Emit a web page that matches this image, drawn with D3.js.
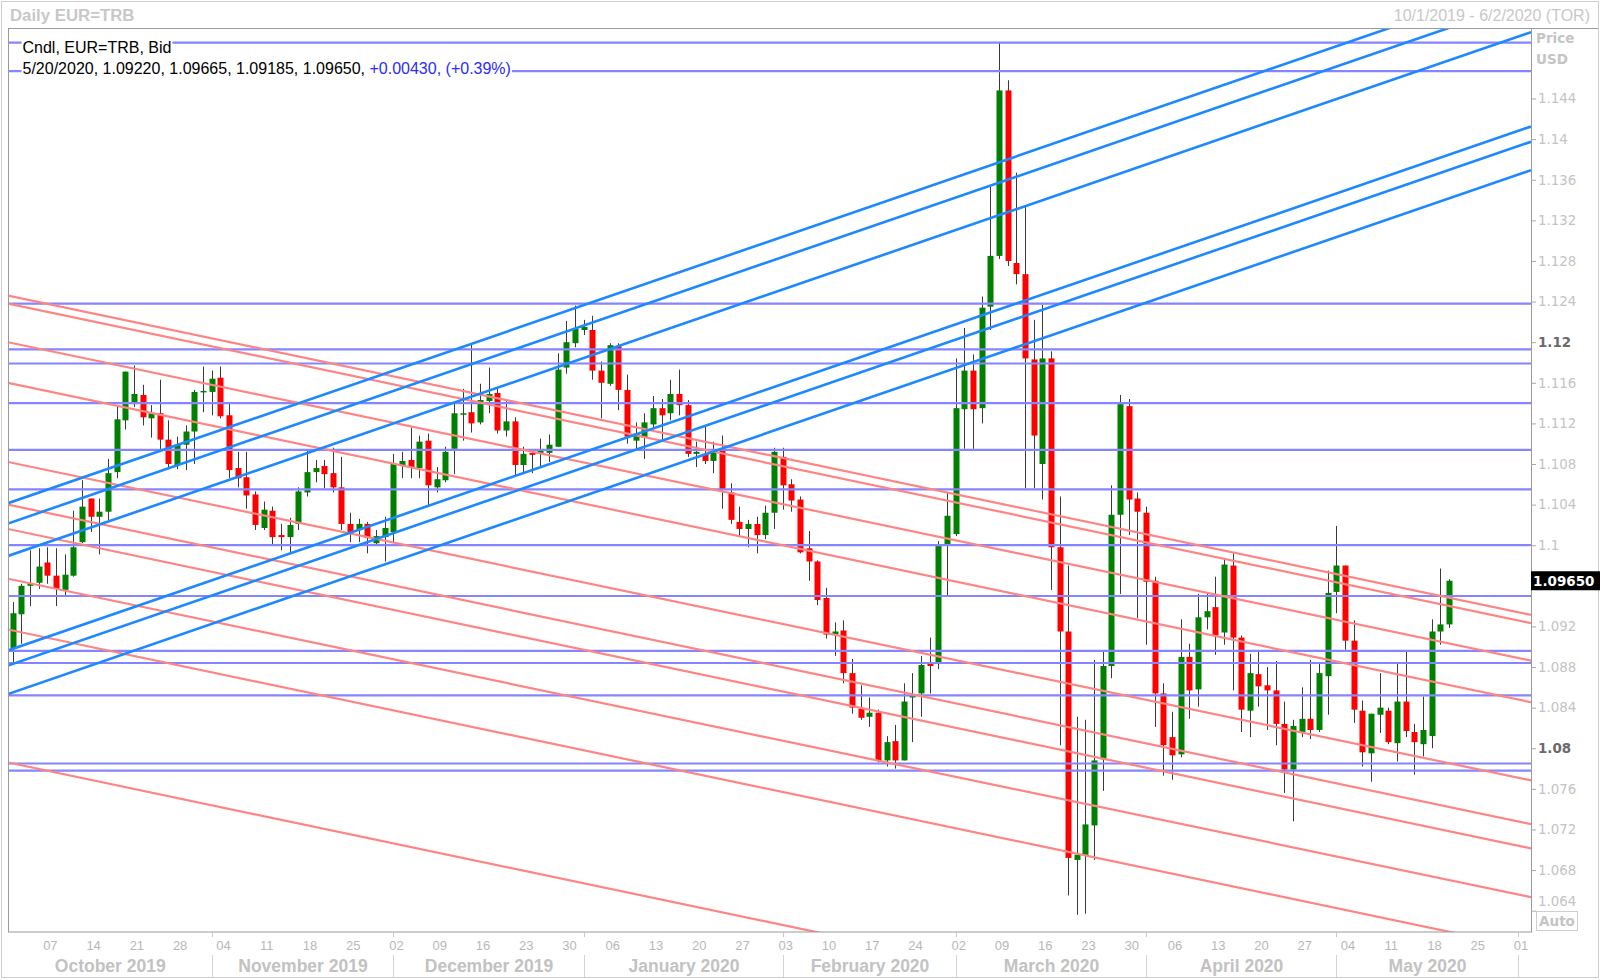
<!DOCTYPE html>
<html><head><meta charset="utf-8">
<script src="https://cdn.jsdelivr.net/npm/d3@7/dist/d3.min.js"></script>
<style>body{margin:0;background:#fff}svg{display:block}</style>
</head><body><svg id="c" width="1600" height="980"></svg>
<script>
// ---------- DATA (Daily EUR=TRB, 1 Oct 2019 – 20 May 2020, weekdays) ----------
const firstDay = "2019-10-01", axisEnd = "2020-06-02";
const open = [
1.0898,1.0932,1.0960,1.0963,1.0983,1.0970,1.0956,1.0970,1.1003,1.1046,
1.1028,1.1033,1.1072,1.1123,1.1141,1.1148,1.1125,1.1130,1.1104,1.1079,
1.1099,1.1112,1.1151,1.1151,1.1165,1.1128,1.1076,1.1067,1.1050,1.1017,
1.1034,1.1010,1.1008,1.1021,1.1052,1.1072,1.1078,1.1071,1.1057,1.1021,
1.1015,1.1021,1.1002,1.1008,1.1013,1.1078,1.1084,1.1076,1.1103,1.1057,
1.1064,1.1095,1.1129,1.1131,1.1121,1.1142,1.1150,1.1113,1.1122,1.1079,
1.1091,1.1090,1.1091,1.1097,1.1175,1.1199,1.1212,1.1212,1.1172,1.1159,
1.1196,1.1153,1.1103,1.1106,1.1119,1.1135,1.1130,1.1149,1.1138,1.1090,
1.1090,1.1083,1.1095,1.1052,1.1023,1.1016,1.1021,1.1010,1.1032,1.1087,
1.1060,1.1045,1.0997,1.0984,1.0948,1.0912,1.0916,1.0874,1.0839,1.0831,
1.0835,1.0788,1.0807,1.0788,1.0850,1.0854,1.0883,1.0883,1.1001,1.1011,
1.1134,1.1172,1.1135,1.1235,1.1285,1.1448,1.1278,1.1267,1.1183,1.1080,
1.1184,1.0998,1.0915,1.0690,1.0695,1.0724,1.0789,1.0881,1.1030,1.1137,
1.1046,1.1032,1.0965,1.0854,1.0811,1.0794,1.0890,1.0858,1.0929,1.0939,
1.0914,1.0980,1.0909,1.0837,1.0873,1.0862,1.0857,1.0824,1.0779,1.0816,
1.0829,1.0818,1.0871,1.0954,1.0980,1.0906,1.0837,1.0795,1.0833,1.0837,
1.0805,1.0846,1.0816,1.0804,1.0812,1.0915,1.0922];
const high = [
1.0944,1.0962,1.0995,1.0997,1.0998,1.0997,1.0991,1.1034,1.1064,1.1046,
1.1046,1.1085,1.1138,1.1171,1.1177,1.1158,1.1138,1.1163,1.1123,1.1107,
1.1118,1.1153,1.1176,1.1172,1.1176,1.1139,1.1092,1.1092,1.1053,1.1043,
1.1038,1.1021,1.1027,1.1057,1.1093,1.1084,1.1084,1.1096,1.1087,1.1032,
1.1026,1.1023,1.1015,1.1028,1.1090,1.1092,1.1116,1.1108,1.1110,1.1077,
1.1097,1.1141,1.1154,1.1199,1.1159,1.1175,1.1154,1.1144,1.1126,1.1097,
1.1092,1.1105,1.1109,1.1189,1.1221,1.1236,1.1222,1.1226,1.1181,1.1199,
1.1199,1.1168,1.1121,1.1130,1.1147,1.1144,1.1163,1.1173,1.1143,1.1102,
1.1118,1.1102,1.1108,1.1061,1.1038,1.1025,1.1028,1.1039,1.1096,1.1096,
1.1065,1.1048,1.1014,1.0985,1.0958,1.0924,1.0926,1.0888,1.0862,1.0850,
1.0838,1.0812,1.0823,1.0864,1.0874,1.0891,1.0909,1.1004,1.1052,1.1184,
1.1214,1.1188,1.1245,1.1353,1.1495,1.1458,1.1367,1.1334,1.1222,1.1237,
1.1191,1.1048,1.0980,1.0831,1.0828,1.0887,1.0895,1.1059,1.1148,1.1144,
1.1052,1.1038,1.0969,1.0864,1.0836,1.0927,1.0903,1.0952,1.0953,1.0969,
1.0987,1.0992,1.0911,1.0893,1.0895,1.0880,1.0886,1.0846,1.0828,1.0860,
1.0887,1.0885,1.0975,1.1019,1.0980,1.0926,1.0847,1.0834,1.0874,1.0840,
1.0885,1.0895,1.0824,1.0851,1.0927,1.0977,1.09665];
const low = [
1.0883,1.0903,1.0940,1.0957,1.0962,1.0940,1.0950,1.0969,1.1002,1.1013,
1.0991,1.1025,1.1066,1.1114,1.1136,1.1118,1.1106,1.1094,1.1077,1.1075,
1.1074,1.1080,1.1131,1.1128,1.1125,1.1066,1.1057,1.1036,1.1015,1.1015,
1.1001,1.0995,1.0992,1.1015,1.1048,1.1062,1.1056,1.1052,1.1015,1.1003,
1.1003,1.0992,1.1001,1.0984,1.1003,1.1066,1.1066,1.1066,1.1039,1.1052,
1.1062,1.1070,1.1103,1.1111,1.1119,1.1130,1.1110,1.1107,1.1069,1.1071,
1.1071,1.1076,1.1082,1.1097,1.1169,1.1195,1.1207,1.1163,1.1125,1.1157,
1.1133,1.1100,1.1095,1.1085,1.1116,1.1103,1.1123,1.1128,1.1087,1.1077,
1.1080,1.1071,1.1036,1.1021,1.1008,1.0998,1.0992,1.1006,1.1016,1.1035,
1.1033,1.0992,1.0965,1.0941,1.0908,1.0891,1.0864,1.0834,1.0828,1.0821,
1.0786,1.0782,1.0780,1.0788,1.0806,1.0831,1.0854,1.0878,1.0950,1.1009,
1.1095,1.1095,1.1120,1.1212,1.1282,1.1275,1.1257,1.1056,1.1056,1.1045,
1.0956,1.0803,1.0655,1.0636,1.0637,1.0690,1.0758,1.0869,1.0952,1.1010,
1.0928,1.0902,1.0821,1.0773,1.0769,1.0791,1.0829,1.0841,1.0917,1.0892,
1.0902,1.0857,1.0816,1.0811,1.0841,1.0818,1.0803,1.0756,1.0728,1.0811,
1.0809,1.0816,1.0833,1.0933,1.0897,1.0825,1.0782,1.0767,1.0815,1.0804,
1.0787,1.0811,1.0774,1.0792,1.0800,1.0902,1.09185];
const close = [
1.0933,1.0960,1.0962,1.0979,1.0970,1.0957,1.0971,1.0998,1.1038,1.1028,
1.1033,1.1071,1.1124,1.1171,1.1149,1.1126,1.1130,1.1104,1.1080,1.1099,
1.1112,1.1151,1.1152,1.1164,1.1127,1.1074,1.1066,1.1049,1.1020,1.1035,
1.1008,1.1008,1.1020,1.1053,1.1072,1.1076,1.1070,1.1057,1.1021,1.1013,
1.1021,1.1007,1.1009,1.1017,1.1080,1.1083,1.1077,1.1102,1.1059,1.1065,
1.1092,1.1130,1.1130,1.1120,1.1143,1.1149,1.1113,1.1122,1.1079,1.1090,
1.1089,1.1093,1.1099,1.1173,1.1200,1.1213,1.1215,1.1172,1.1160,1.1197,
1.1153,1.1107,1.1110,1.1121,1.1135,1.1128,1.1149,1.1138,1.1090,1.1092,
1.1083,1.1092,1.1055,1.1025,1.1016,1.1021,1.1010,1.1032,1.1092,1.1059,
1.1044,1.0993,1.0984,1.0946,1.0912,1.0915,1.0874,1.0840,1.0830,1.0835,
1.0788,1.0806,1.0788,1.0846,1.0852,1.0882,1.0881,1.1001,1.1029,1.1135,
1.1172,1.1134,1.1234,1.1285,1.1448,1.1280,1.1267,1.1184,1.1108,1.1184,
1.0998,1.0915,1.0692,1.0695,1.0725,1.0788,1.0881,1.1030,1.1139,1.1045,
1.1033,1.0964,1.0854,1.0803,1.0793,1.0890,1.0857,1.0929,1.0935,1.0911,
1.0981,1.0909,1.0838,1.0874,1.0861,1.0857,1.0824,1.0779,1.0822,1.0829,
1.0818,1.0874,1.0953,1.0980,1.0906,1.0838,1.0796,1.0834,1.0840,1.0806,
1.0846,1.0817,1.0806,1.0818,1.0915,1.0922,1.0965];

// horizontal support / resistance levels
const hLevels = [1.1495,1.1467,1.1238,1.1193,1.1179,1.1140,1.1094,1.1055,1.1000,1.0950,1.0896,1.0884,1.0852,1.0785,1.0778];
// trend lines: value on anchorA and anchorB dates
const anchorA = "2019-10-01", anchorB = "2020-05-12";
const redLines = [[1.1245,1.0959],[1.1237,1.0951],[1.1199,1.0914],[1.1159,1.0873],[1.1081,1.0796],
                  [1.1039,1.0753],[1.1015,1.0729],[1.0966,1.0681],[1.0916,1.0630],[1.0785,1.0499]];
const blueLines = [[1.1043,1.1512],[1.1023,1.1492],[1.0991,1.1460],[1.0898,1.1367],[1.0883,1.1352],[1.0855,1.1324]];

// 1.096 is covered by the last-price box in the reference, so it is not labelled
const yTicks = [1.064,1.068,1.072,1.076,1.08,1.084,1.088,1.092,1.1,1.104,1.108,1.112,1.116,1.12,1.124,1.128,1.132,1.136,1.14,1.144];
const yBold = [1.12,1.08];
const monthLabels = ["October 2019","November 2019","December 2019","January 2020","February 2020","March 2020","April 2020","May 2020"];
const legendLine1 = "Cndl, EUR=TRB, Bid";
const legendLine2a = "5/20/2020, 1.09220, 1.09665, 1.09185, 1.09650, ";
const legendLine2b = "+0.00430, (+0.39%)";
const lastPrice = "1.09650";

// ---------- SETUP ----------
const parse = d3.timeParse("%Y-%m-%d");
const days = d3.timeDay.range(parse(firstDay), d3.timeDay.offset(parse(axisEnd), 1))
  .filter(d => d.getDay() !== 0 && d.getDay() !== 6);
const idxOf = s => { const t = +parse(s); return days.findIndex(d => +d === t); };

const L = 8, R = 1531, T = 29, B = 932;
const x = d3.scaleLinear().domain([-0.55, days.length - 0.5]).range([L, R]);
const y = d3.scaleLinear().domain([1.0619, 1.15085]).range([B, T]);

const svg = d3.select("#c");
svg.append("rect").attr("width",1600).attr("height",980).attr("fill","#fff");
svg.append("rect").attr("x",1.5).attr("y",1.5).attr("width",1597).attr("height",976)
  .attr("fill","none").attr("stroke","#cfcfcf");

// header
svg.append("text").attr("x",10).attr("y",21).attr("font-family","Liberation Sans, Arial, sans-serif")
  .attr("font-weight","bold").attr("font-size",16.8).attr("fill","#c8c8c8").text("Daily EUR=TRB");
svg.append("text").attr("x",1590).attr("y",21).attr("text-anchor","end").attr("font-family","Liberation Sans, Arial, sans-serif")
  .attr("font-size",16).attr("fill","#c8c8c8").text("10/1/2019 - 6/2/2020 (TOR)");

svg.append("defs").append("clipPath").attr("id","clip").append("rect")
  .attr("x",L).attr("y",T).attr("width",R-L).attr("height",B-T);
const plot = svg.append("g").attr("clip-path","url(#clip)");

// candles
const candles = open.map((o,i) => ({i, o, h: high[i], l: low[i], c: close[i]}));
const cg = plot.append("g");
cg.selectAll("line.w").data(candles).join("line").attr("class","w")
  .attr("x1", d => Math.round(x(d.i)) + 0.5).attr("x2", d => Math.round(x(d.i)) + 0.5)
  .attr("y1", d => y(d.h)).attr("y2", d => y(d.l))
  .attr("stroke","#3a3a3a").attr("stroke-width",1);
cg.selectAll("rect.b").data(candles).join("rect").attr("class","b")
  .attr("x", d => Math.round(x(d.i)) - 2.5).attr("width", 6)
  .attr("y", d => y(Math.max(d.o,d.c)))
  .attr("height", d => Math.max(1.5, Math.abs(y(d.o) - y(d.c))))
  .attr("fill", d => d.c >= d.o ? "#008000" : "#ff0000");

// lines
const iA = idxOf(anchorA), iB = idxOf(anchorB);
const i0 = x.domain()[0], i1 = x.domain()[1];
const valAt = (p, i) => p[0] + (p[1]-p[0]) * (i - iA) / (iB - iA);
plot.append("g").selectAll("line").data(hLevels).join("line")
  .attr("x1",L).attr("x2",R).attr("y1",d=>y(d)).attr("y2",d=>y(d))
  .attr("stroke","#8585ff").attr("stroke-width",2.2);
plot.append("g").selectAll("line").data(redLines).join("line")
  .attr("x1",x(i0)).attr("x2",x(i1)).attr("y1",d=>y(valAt(d,i0))).attr("y2",d=>y(valAt(d,i1)))
  .attr("stroke","#ff8484").attr("stroke-width",2.2);
plot.append("g").selectAll("line").data(blueLines).join("line")
  .attr("x1",x(i0)).attr("x2",x(i1)).attr("y1",d=>y(valAt(d,i0))).attr("y2",d=>y(valAt(d,i1)))
  .attr("stroke","#1e88ff").attr("stroke-width",2.6);

// frame
svg.append("rect").attr("x",L+0.5).attr("y",T-0.5).attr("width",R-L).attr("height",B-T+0.5)
  .attr("fill","none").attr("stroke","#9a9a9a");
svg.append("line").attr("x1",R).attr("x2",1598).attr("y1",T-0.5).attr("y2",T-0.5).attr("stroke","#9a9a9a");

// legend text with white background
function legendText(yb, parts){
  const g = svg.append("g");
  const bg = g.append("rect").attr("fill","#fff");
  const t = g.append("text").attr("x",22.5).attr("y",yb).attr("font-family","Liberation Sans, Arial, sans-serif").attr("font-size",16);
  parts.forEach(p => t.append("tspan").attr("fill",p[1]).text(p[0]));
  const bb = t.node().getBBox();
  bg.attr("x",bb.x-1).attr("y",bb.y+1).attr("width",bb.width+2).attr("height",bb.height-2);
}
legendText(52.5, [[legendLine1,"#000"]]);
legendText(73.5, [[legendLine2a,"#000"],[legendLine2b,"#2b2bff"]]);

// right axis
const yAxis = d3.axisRight(y).tickValues(yTicks).tickSize(5).tickPadding(2)
  .tickFormat(d => String(+d.toFixed(3)));
const ya = svg.append("g").attr("transform",`translate(${R},0)`).call(yAxis);
ya.select(".domain").remove();
ya.selectAll(".tick line").attr("stroke","#a8a8a8");
ya.selectAll(".tick text").attr("font-family","DejaVu Sans, Verdana, sans-serif").attr("font-size",13.4)
  .attr("fill", d => yBold.includes(d) ? "#6a6a6a" : "#c4c4c4")
  .attr("font-weight", d => yBold.includes(d) ? "bold" : "normal")
  .attr("dy", d => d === 1.064 ? "-0.42em" : "0.32em");
svg.append("text").attr("x",1536).attr("y",43).attr("font-family","DejaVu Sans, Verdana, sans-serif").attr("font-weight","bold")
  .attr("font-size",13.5).attr("fill","#c4c4c4").text("Price");
svg.append("text").attr("x",1536).attr("y",64).attr("font-family","DejaVu Sans, Verdana, sans-serif").attr("font-weight","bold")
  .attr("font-size",13.5).attr("fill","#c4c4c4").text("USD");
const py = y(close[close.length-1]);
svg.append("rect").attr("x",R).attr("y",py-9.5).attr("width",69).attr("height",19).attr("fill","#000");
svg.append("text").attr("x",R+2).attr("y",py+5).attr("font-family","DejaVu Sans, Verdana, sans-serif").attr("font-weight","bold")
  .attr("font-size",13.5).attr("fill","#fff").text(lastPrice);
svg.append("rect").attr("x",1536.5).attr("y",911.5).attr("width",41).attr("height",19).attr("fill","#fff").attr("stroke","#cfcfcf");
svg.append("text").attr("x",1557).attr("y",926).attr("text-anchor","middle").attr("font-family","DejaVu Sans, Verdana, sans-serif")
  .attr("font-weight","bold").attr("font-size",13.5).attr("fill","#c4c4c4").text("Auto");

// bottom axis: week labels (Mondays)
const mondays = days.map((d,i)=>({d,i})).filter(o => o.d.getDay() === 1);
const fmtDay = d3.timeFormat("%d");
const xAxis = d3.axisBottom(x).tickValues(mondays.map(o=>o.i)).tickSize(0)
  .tickFormat(i => fmtDay(days[i]));
const xa = svg.append("g").attr("transform",`translate(2.5,${B})`).call(xAxis);
xa.select(".domain").remove();
xa.selectAll(".tick text").attr("y",17.5).attr("dy",0).attr("font-family","Liberation Sans, Arial, sans-serif")
  .attr("font-size",13).attr("fill","#b8b8b8");

// month separators & labels
const monthStarts = [];
days.forEach((d,i) => { if (i>0 && d.getMonth() !== days[i-1].getMonth()) monthStarts.push(i); });
const sepX = monthStarts.map(i => Math.round(x(i)) + 0.5);
const mg = svg.append("g");
sepX.forEach(sx => {
  mg.append("line").attr("x1",sx).attr("x2",sx).attr("y1",B).attr("y2",B+5).attr("stroke","#c8c8c8");
  mg.append("line").attr("x1",sx).attr("x2",sx).attr("y1",955).attr("y2",977).attr("stroke","#d4d4d4");
});
const bounds = [L, ...sepX];
monthLabels.forEach((m,k) => {
  mg.append("text").attr("x",(bounds[k]+bounds[k+1])/2).attr("y",972).attr("text-anchor","middle")
    .attr("font-family","Liberation Sans, Arial, sans-serif").attr("font-weight","bold").attr("font-size",17.5)
    .attr("fill","#c2c2c2").text(m);
});
</script></body></html>
